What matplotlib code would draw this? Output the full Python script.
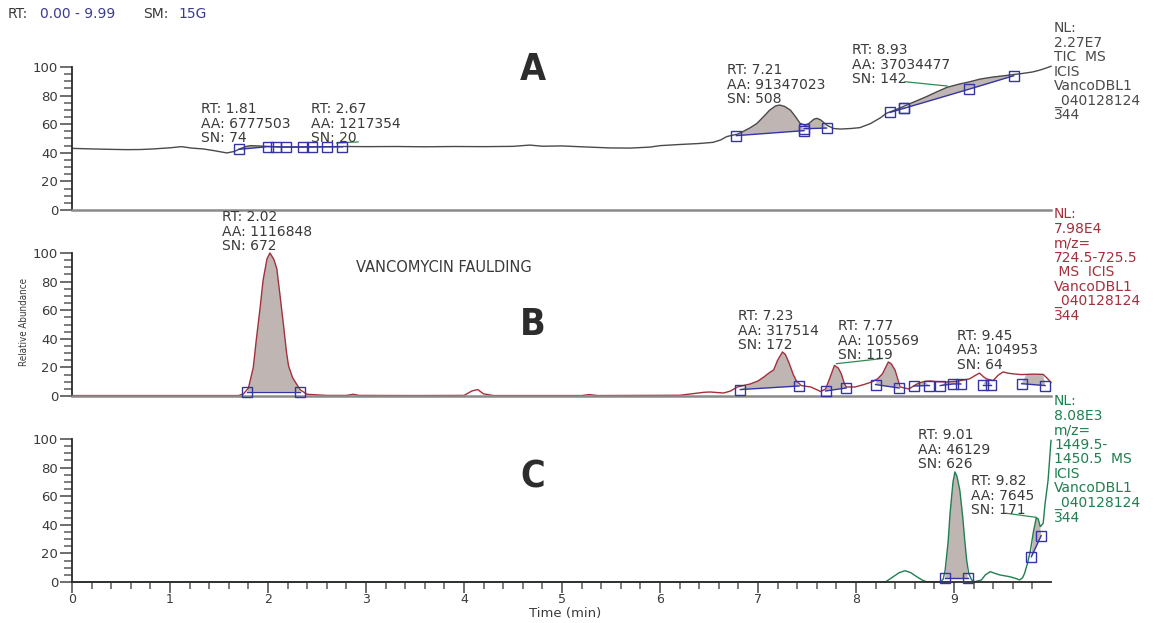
import numpy as np
import matplotlib
matplotlib.use("Agg")
import matplotlib.pyplot as plt
from matplotlib.ticker import MultipleLocator

plt.rcParams['font.family'] = ['DejaVu Sans']

# ---------------- data ----------------
# Panel A: TIC
tA = [0.00, 0.20, 0.40, 0.56, 0.70, 0.83, 1.00, 1.12, 1.22, 1.34, 1.45, 1.58, 1.66, 1.71,
      1.77, 1.82, 1.90, 1.99, 2.10, 2.26, 2.50, 2.67, 2.80, 3.00, 3.30, 3.60, 3.90, 4.20,
      4.50, 4.67, 4.80, 5.00, 5.20, 5.49, 5.70, 5.90, 6.00, 6.20, 6.40, 6.54, 6.62, 6.68,
      6.74, 6.79, 6.85, 6.92, 6.99, 7.06, 7.12, 7.18, 7.22, 7.27, 7.33, 7.38, 7.43, 7.48,
      7.52, 7.57, 7.60, 7.64, 7.70, 7.77, 7.84, 7.95, 8.04, 8.15, 8.25, 8.31, 8.40, 8.48,
      8.60, 8.72, 8.82, 8.93, 9.05, 9.15, 9.27, 9.40, 9.57, 9.70, 9.80, 9.88, 9.95, 9.99]
iA = [43.1, 42.7, 42.4, 42.2, 42.3, 42.7, 43.5, 44.3, 43.3, 42.7, 41.5, 39.9, 41.0, 42.7,
      44.3, 45.0, 44.8, 44.5, 44.2, 44.0, 44.2, 44.3, 44.4, 44.3, 44.4, 44.2, 44.4, 44.3,
      44.5, 45.4, 44.6, 44.8, 44.2, 43.4, 43.3, 44.0, 45.0, 45.8, 46.5, 47.3, 49.0, 51.3,
      52.3, 53.0, 55.0, 57.5, 60.6, 65.5, 69.9, 72.8, 73.4, 72.5, 69.9, 65.5, 60.6, 59.2,
      60.5, 63.5, 64.1, 63.0, 59.4, 57.0, 56.6, 57.0, 57.6, 60.5, 64.5, 67.6, 70.0, 72.3,
      75.8, 79.3, 82.5, 85.8, 88.0, 89.5, 91.6, 93.0, 94.4, 95.5, 96.5, 97.9, 99.5, 100.5]
baseA = [[(1.70, 42.4), (2.00, 44.3), (2.08, 44.2), (2.18, 44.0), (2.36, 44.1),
          (2.45, 44.1), (2.60, 44.2), (2.76, 44.2)],
         [(6.78, 52.0), (7.47, 55.5)],
         [(7.47, 56.8), (7.70, 57.3)],
         [(8.35, 68.3), (8.49, 71.1)],
         [(8.49, 71.1), (9.15, 84.4), (9.61, 93.9)]]
guideA = [[(2.70, 46.9), (2.92, 47.6)], [(8.50, 89.7), (8.93, 86.7)]]
labelsA = [(1.32, 75.5, "RT: 1.81\nAA: 6777503\nSN: 74"),
           (2.44, 75.5, "RT: 2.67\nAA: 1217354\nSN: 20"),
           (6.68, 102.8, "RT: 7.21\nAA: 91347023\nSN: 508"),
           (7.96, 116.8, "RT: 8.93\nAA: 37034477\nSN: 142")]

# Panel B: m/z 724.5-725.5
tB = [0.00, 1.00, 1.70, 1.75, 1.80, 1.85, 1.88, 1.92, 1.95, 1.99, 2.02, 2.06, 2.09, 2.12,
      2.16, 2.19, 2.21, 2.25, 2.29, 2.33, 2.40, 2.45, 2.50, 2.60, 2.80, 2.87, 2.93, 3.50,
      4.00, 4.08, 4.14, 4.20, 4.30, 5.20, 5.28, 5.36, 6.20, 6.31, 6.45, 6.51, 6.65, 6.72,
      6.79, 6.92, 7.00, 7.06, 7.12, 7.16, 7.20, 7.25, 7.28, 7.32, 7.36, 7.39, 7.44, 7.54,
      7.64, 7.69, 7.73, 7.78, 7.82, 7.85, 7.88, 7.90, 7.99, 8.08, 8.16, 8.22, 8.27, 8.33,
      8.36, 8.40, 8.45, 8.54, 8.60, 8.64, 8.70, 8.75, 8.83, 8.92, 9.00, 9.05, 9.10, 9.16,
      9.22, 9.26, 9.30, 9.33, 9.40, 9.45, 9.50, 9.55, 9.60, 9.68, 9.74, 9.82, 9.91, 9.95, 9.99]
iB = [0.3, 0.3, 0.3, 1.5, 5.5, 20.0, 39.0, 62.0, 81.0, 96.0, 100.0, 95.5, 89.0, 72.0,
      48.5, 30.0, 21.0, 13.0, 8.5, 4.2, 1.2, 1.0, 0.8, 0.4, 0.4, 1.2, 0.4, 0.3,
      0.4, 3.5, 4.5, 1.5, 0.3, 0.3, 1.0, 0.3, 0.5, 1.4, 2.6, 2.8, 2.1, 3.5,
      6.3, 8.4, 10.5, 13.3, 16.5, 18.2, 25.0, 30.8, 29.0, 22.6, 15.0, 10.8, 7.3, 6.3,
      3.1, 4.9, 12.0, 21.4, 19.5, 15.5, 9.0, 6.3, 6.3, 8.0, 9.8, 12.0, 15.5, 23.8,
      22.5, 17.9, 6.3, 4.9, 7.5, 9.1, 10.2, 10.5, 10.0, 9.8, 10.2, 10.5, 11.2, 12.0,
      14.5, 16.0, 13.5, 12.0, 10.8, 14.5, 16.8, 16.0, 15.5, 15.0, 15.1, 15.3, 15.1, 12.5, 9.5]
baseB = [[(1.79, 3.0), (2.33, 3.0)],
         [(6.82, 4.5), (7.42, 7.0)],
         [(7.69, 3.5), (7.90, 5.6)],
         [(8.20, 8.0), (8.44, 5.6)],
         [(8.59, 7.0), (8.75, 7.3)],
         [(8.86, 7.3), (8.99, 8.4), (9.07, 8.4)],
         [(9.30, 8.0), (9.38, 8.0)],
         [(9.69, 8.6), (9.93, 7.3)]]
guideB = [[(7.80, 22.6), (8.27, 26.2)]]
labelsB = [(1.53, 130.0, "RT: 2.02\nAA: 1116848\nSN: 672"),
           (6.80, 60.8, "RT: 7.23\nAA: 317514\nSN: 172"),
           (7.82, 53.8, "RT: 7.77\nAA: 105569\nSN: 119"),
           (9.03, 46.9, "RT: 9.45\nAA: 104953\nSN: 64")]

# Panel C: m/z 1449.5-1450.5
tC = [0.00, 8.30, 8.38, 8.44, 8.50, 8.56, 8.62, 8.68, 8.72, 8.86, 8.89, 8.91, 8.94, 8.96,
      8.99, 9.01, 9.03, 9.06, 9.09, 9.11, 9.13, 9.15, 9.18, 9.21, 9.28, 9.32, 9.37, 9.42,
      9.47, 9.57, 9.63, 9.67, 9.70, 9.72, 9.75, 9.78, 9.81, 9.84, 9.86, 9.88, 9.91, 9.93,
      9.96, 9.99]
iC = [0.0, 0.0, 3.7, 6.5, 7.9, 6.5, 3.7, 1.2, 0.2, 0.0, 2.0, 8.4, 28.0, 48.0,
      70.0, 77.0, 74.0, 64.0, 45.0, 29.0, 15.0, 6.0, 1.5, 0.2, 1.4, 5.0, 7.2, 6.0,
      4.9, 3.7, 2.5, 1.4, 3.0, 6.0, 13.0, 22.0, 35.0, 45.0, 44.0, 38.7, 41.0, 55.0,
      71.0, 99.0]
baseC = [[(8.91, 2.6), (9.14, 2.6)],
         [(9.79, 17.7), (9.89, 32.4)]]
guideC = [[(9.54, 48.0), (9.84, 45.2)]]
labelsC = [(8.63, 107.7, "RT: 9.01\nAA: 46129\nSN: 626"),
           (9.17, 75.5, "RT: 9.82\nAA: 7645\nSN: 171")]

x_ticks = [0, 1, 2, 3, 4, 5, 6, 7, 8, 9]
y_ticks = [0, 20, 40, 60, 80, 100]

infoA = "NL:\n2.27E7\nTIC  MS\nICIS\nVancoDBL1\n_040128124\n344"
infoB = "NL:\n7.98E4\nm/z=\n724.5-725.5\n MS  ICIS\nVancoDBL1\n_040128124\n344"
infoC = "NL:\n8.08E3\nm/z=\n1449.5-\n1450.5  MS\nICIS\nVancoDBL1\n_040128124\n344"

# ---------------- styling ----------------
W, H = 1155, 623
FS = 10
TFS = 9.5
TXT = '#3a3a3a'
BLUE = '#3434a4'
FILL = '#bfb6b4'
GREEN = '#2e8b57'

fig = plt.figure(figsize=(W / 100, H / 100), dpi=100)


def rect(top100, bottom0):
    return [72 / W, 1 - bottom0 / H, (1051 - 72) / W, (bottom0 - top100) / H]


def panel(r, t, y, color, bases, guides, labels, show_x):
    ax = fig.add_axes(r)
    ax.set_xlim(0, 9.99)
    ax.set_ylim(0, 100)
    ax.patch.set_alpha(0)
    for sp in ('top', 'right'):
        ax.spines[sp].set_visible(False)
    ax.spines['left'].set_color('#2a2a2a')
    ax.spines['left'].set_linewidth(1.3)
    if show_x:
        ax.spines['bottom'].set_color('#2a2a2a')
        ax.spines['bottom'].set_linewidth(1.3)
        ax.set_xticks(x_ticks)
        ax.xaxis.set_minor_locator(MultipleLocator(0.2))
        ax.tick_params(axis='x', which='major', length=8, width=1.2, color='#555555',
                       labelsize=9, labelcolor=TXT, pad=0)
        ax.tick_params(axis='x', which='minor', length=5, width=1.2, color='#666666')
    else:
        ax.spines['bottom'].set_color('#8a8a8a')
        ax.spines['bottom'].set_linewidth(1.8)
        ax.set_xticks([])
    ax.set_yticks(y_ticks)
    ax.yaxis.set_minor_locator(MultipleLocator(5))
    ax.tick_params(axis='y', which='major', length=9, width=1.2, color='#555555',
                   labelsize=TFS, labelcolor=TXT, pad=1)
    ax.tick_params(axis='y', which='minor', length=6, width=1.2, color='#666666')

    ta = np.array(t)
    ya = np.array(y)
    for seg in bases:
        st = [p[0] for p in seg]
        sy = [p[1] for p in seg]
        m = (ta > st[0]) & (ta < st[-1])
        px = [st[0]] + list(ta[m]) + [st[-1]] + st[-2:0:-1]
        py = [sy[0]] + list(ya[m]) + [sy[-1]] + sy[-2:0:-1]
        ax.fill(px, py, color=FILL, lw=0, zorder=1)
        ax.plot(st, sy, color=BLUE, lw=1.0, zorder=3)
        ax.plot(st, sy, ls='none', marker='s', ms=7, mfc='none', mec=BLUE, mew=1.0,
                zorder=4, clip_on=False)
    ax.plot(t, y, color=color, lw=1.0, zorder=2, clip_on=False)
    for g in guides:
        ax.plot([g[0][0], g[1][0]], [g[0][1], g[1][1]], color=GREEN, lw=0.9, zorder=2,
                clip_on=False)
    for (lx, ly, s) in labels:
        ax.text(lx, ly, s, fontsize=FS, color=TXT, ha='left', va='top',
                linespacing=1.05, clip_on=False)
    return ax


axA = panel(rect(67, 210), tA, iA, '#4a4a4a', baseA, guideA, labelsA, False)
axB = panel(rect(253, 396), tB, iB, '#a3303c', baseB, guideB, labelsB, False)
axC = panel(rect(439, 582), tC, iC, '#1f7f4f', baseC, guideC, labelsC, True)

axB.text(2.90, 90.2, "VANCOMYCIN FAULDING", fontsize=10.5, color=TXT, ha='left', va='center')
fig.text(565 / W, 1 - 613 / H, "Time (min)", fontsize=9.5, color=TXT, ha='center', va='center')

# panel letters
for (yc, s) in [(70, 'A'), (325, 'B'), (477, 'C')]:
    fig.text(533 / W, 1 - yc / H, s, fontsize=27, fontweight='bold', color='#2d2d2d',
             ha='center', va='center', family='DejaVu Sans', fontstretch='condensed')

# right-side info
for (top, s, c) in [(21, infoA, '#4a4a4a'), (207, infoB, '#a3303c'), (394, infoC, '#1f7f4f')]:
    fig.text(1054 / W, 1 - top / H, s, fontsize=FS, color=c, ha='left', va='top',
             linespacing=1.05)

# y label
fig.text(24 / W, 1 - 322 / H, "Relative Abundance", rotation=90, fontsize=7, color=TXT,
         ha='center', va='center', family='DejaVu Sans', fontstretch='condensed')

# header
for (x, s, c) in [(8, "RT:", TXT), (40, "0.00 - 9.99", '#3b3b8e'),
                  (143, "SM:", TXT), (178, "15G", '#3b3b8e')]:
    fig.text(x / W, 1 - 14 / H, s, fontsize=FS, color=c, ha='left', va='center')

fig.savefig("out.png", dpi=100)
